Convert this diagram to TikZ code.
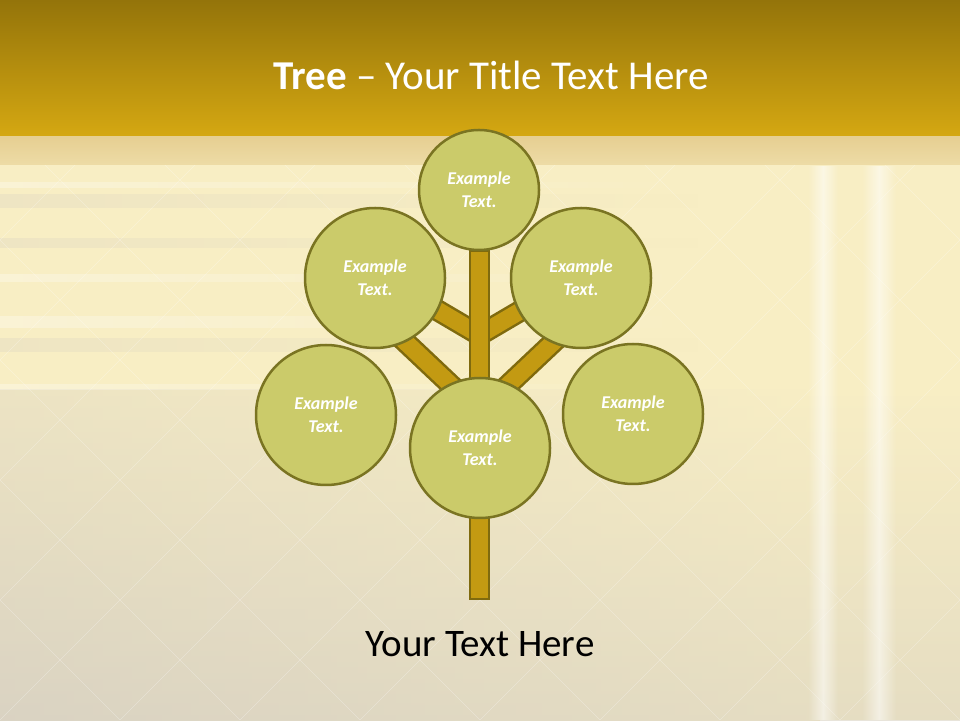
\documentclass[tikz,border=0pt]{standalone}
\usepackage{fontspec}
\setmainfont{Carlito}
\usetikzlibrary{backgrounds,fadings}

\definecolor{headtop}{HTML}{94740A}
\definecolor{headbot}{HTML}{D5A812}
\definecolor{stripfill}{HTML}{E6CF92}
\definecolor{bodyfill}{HTML}{F8EEC4}
\definecolor{greyish}{HTML}{D9D2C2}
\definecolor{leaffill}{HTML}{CBCB6A}
\definecolor{leafline}{HTML}{7A7422}
\definecolor{barkfill}{HTML}{C39A12}
\definecolor{barkline}{HTML}{7F6A0E}

\tikzfading[name=fade sides,left color=transparent!100,right color=transparent!100,
  middle color=transparent!0]

\tikzset{
  leaf/.style={circle,draw=leafline,fill=leaffill,line width=2.5pt,
    minimum size=140pt,inner sep=0pt,text=white,align=center,
    font=\fontsize{18}{23}\selectfont\bfseries\itshape},
  bough/.style={draw=barkline,line width=2.5pt,double=barkfill,double distance=17pt},
  trunkbox/.style={rectangle,draw=barkline,fill=barkfill,line width=2.5pt,
    minimum width=19pt,minimum height=348pt,inner sep=0pt}
}

\begin{document}
\begin{tikzpicture}[x=1pt,y=1pt]
  \useasboundingbox (0,0) rectangle (960,720);

  % leaves
  \node[leaf,minimum size=120pt] (top) at (479,530) {Example\\Text.};
  \node[leaf] (upleft) at (375,442) {Example\\Text.};
  \node[leaf] (upright) at (581,442) {Example\\Text.};
  \node[leaf] (lowleft) at (326,305) {Example\\Text.};
  \node[leaf] (lowright) at (633,306) {Example\\Text.};
  \node[leaf] (middle) at (480,272) {Example\\Text.};

  % titles
  \node[text=white,font=\fontsize{41}{48}\selectfont] (title) at (491,645)
    {\textbf{Tree} -- Your Title Text Here};
  \node[font=\fontsize{39}{46}\selectfont] (caption) at (480,76) {Your Text Here};

  \begin{scope}[on background layer]
    % slide background
    \fill[bodyfill] (0,0) rectangle (960,583);
    \shade[left color=greyish,right color=bodyfill,opacity=0.9] (0,0) rectangle (820,330);
    \shade[top color=bodyfill,bottom color=greyish,opacity=0.6] (0,0) rectangle (960,330);
    \foreach \y/\h/\c in {532/6/white,512/14/greyish,472/10/greyish,438/8/white,
                          392/12/white,368/14/greyish,330/6/white}
      \fill[\c,opacity=0.3,path fading=east] (0,\y) rectangle (700,\y+\h);
    \foreach \x/\w in {808/30,862/34}
      \fill[white,opacity=0.55,path fading=fade sides] (\x,0) rectangle (\x+\w,555);
    \begin{scope}
      \clip (0,0) rectangle (960,555);
      \foreach \k in {-12,...,12}
      {
        \draw[white,opacity=0.3,line width=0.6pt] (\k*120,0) -- ++(45:1100);
        \draw[white,opacity=0.3,line width=0.6pt] (\k*120+960,0) -- ++(135:1100);
      }
    \end{scope}
    \shade[top color=headtop,bottom color=headbot] (0,583) rectangle (960,720);
    \shade[top color=stripfill,bottom color=stripfill!60!bodyfill] (0,555) rectangle (960,583);

    % branches
    \coordinate (forklow) at (479.5,308);
    \coordinate (forkhigh) at (479.5,385);
    \coordinate (tipleft) at (380,402);
    \coordinate (tipright) at (579,402);
    \coordinate (twigleft) at (420,420);
    \coordinate (twigright) at (539,420);
    \draw[bough] (forklow) -- (tipleft);
    \draw[bough] (forklow) -- (tipright);
    \draw[bough] (forkhigh) -- (twigleft);
    \draw[bough] (forkhigh) -- (twigright);
    \node[trunkbox] (trunk) at (479.5,295) {};
  \end{scope}
\end{tikzpicture}
\end{document}
